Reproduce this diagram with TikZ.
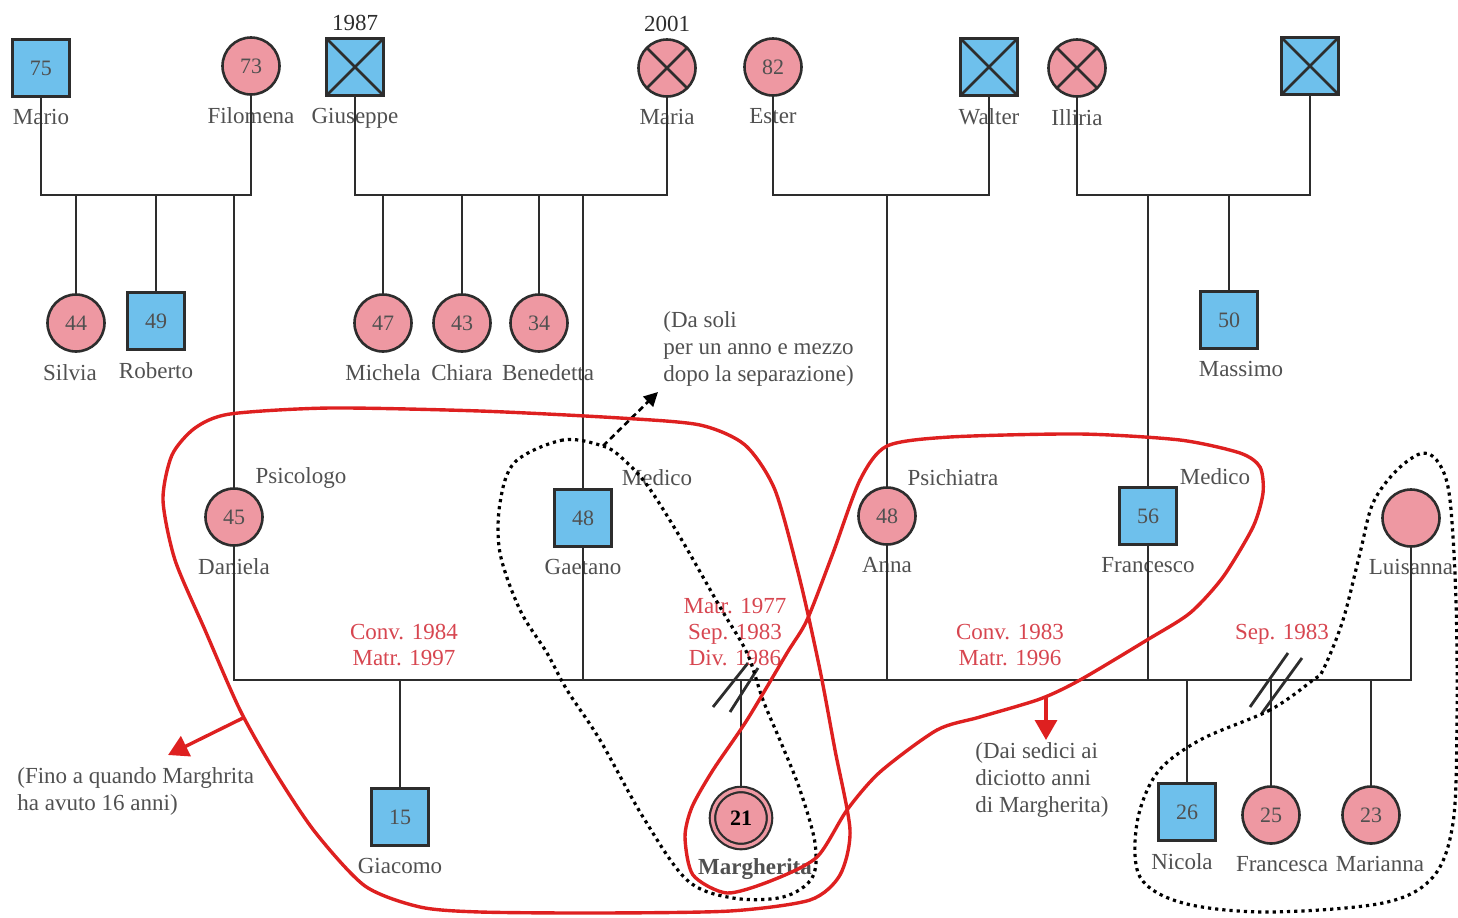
\documentclass[tikz,border=0pt]{standalone}
\usepackage{fontspec}
\setmainfont{Liberation Serif}
\usetikzlibrary{arrows.meta, positioning}
\definecolor{mblue}{RGB}{110,192,236}
\definecolor{fpink}{RGB}{238,152,162}
\definecolor{linegray}{RGB}{45,45,45}
\definecolor{txtgray}{RGB}{80,80,80}
\definecolor{penred}{RGB}{222,32,32}
\definecolor{notered}{RGB}{215,70,80}

\tikzset{
  person/.style={draw=linegray, line width=1.3pt, inner sep=0pt, minimum size=28.5pt,
    font=\fontsize{11}{12}\selectfont, text=txtgray},
  male/.style={person, rectangle, fill=mblue},
  female/.style={person, circle, fill=fpink},
  dead/.style={path picture={\draw[linegray, line width=1.3pt]
    (path picture bounding box.north west) -- (path picture bounding box.south east)
    (path picture bounding box.south west) -- (path picture bounding box.north east);}},
  namelbl/.style={font=\fontsize{11.5}{12}\selectfont, text=txtgray, inner sep=1pt},
  nm/.style={label={[namelbl]below:#1}},
  nmx/.style 2 args={label={[namelbl, xshift=#1]below:#2}},
  yr/.style={label={[namelbl, text=linegray, yshift=-2.5pt]above:#1}},
  prof/.style={font=\fontsize{11.5}{12}\selectfont, text=txtgray, inner sep=1pt},
  redtxt/.style={font=\fontsize{11.5}{13}\selectfont, text=notered, align=center, inner sep=0pt},
  note/.style={font=\fontsize{11.5}{13.5}\selectfont, text=txtgray, align=left, inner sep=0pt, anchor=west},
  kin/.style={draw=linegray, line width=1.4pt},
  pen/.style={draw=penred, line width=1.7pt},
  penarrow/.style={penred, line width=1.7pt, -{Triangle[length=10pt, width=11pt]}},
  dots/.style={draw=black, line width=1.6pt, dash pattern=on 1.6pt off 2pt}
}

\begin{document}
\begin{tikzpicture}[x=0.5pt, y=-0.5pt, label distance=4.5pt]
  \useasboundingbox (0,0) rectangle (1458,917);
  \coordinate (famA) at (0,195);
  \coordinate (wed) at (0,680);

  % draws the grandparents
  \node[male, nm=Mario] (mario) at (41,68) {75};
  \node[female, nm=Filomena] (filomena) at (251,66) {73};
  \node[male, dead, nm=Giuseppe, yr=1987] (giuseppe) at (355,67) {};
  \node[female, dead, nm=Maria, yr=2001] (maria) at (667,68) {};
  \node[female, nm=Ester] (ester) at (773,67) {82};
  \node[male, dead, nm=Walter] (walter) at (989,67) {};
  \node[female, dead, nm=Illiria] (illiria) at (1077,68) {};
  \node[male, dead] (nonno) at (1310,66) {};

  % draws the uncles and aunts
  \node[female, nmx={-3pt}{Silvia}] (silvia) at (76,323) {44};
  \node[male, nm=Roberto] (roberto) at (156,321) {49};
  \node[female, nm=Michela] (michela) at (383,323) {47};
  \node[female, nm=Chiara] (chiara) at (462,323) {43};
  \node[female, nmx={4.5pt}{Benedetta}] (benedetta) at (539,323) {34};
  \node[male, nmx={6pt}{Massimo}] (massimo) at (1229,320) {50};

  % draws the parents
  \node[female, nm=Daniela] (daniela) at (234,517) {45};
  \node[male, nm=Gaetano] (gaetano) at (583,518) {48};
  \node[female, nm=Anna] (anna) at (887,516) {48};
  \node[male, nm=Francesco] (francesco) at (1148,516) {56};
  \node[female, nm=Luisanna] (luisanna) at (1411,518) {};
  \node[prof] (psicologo) at (301,478) {Psicologo};
  \node[prof] (medicoG) at (657,478) {Medico};
  \node[prof] (psichiatra) at (953,478) {Psichiatra};
  \node[prof] (medicoF) at (1215,477) {Medico};

  % draws the children
  \node[male, nm=Giacomo] (giacomo) at (400,817) {15};
  \node[female, double=fpink, double distance=1.6pt, line width=1.1pt, text=black,
    nmx={7pt}{\textbf{Margherita}}] (margherita) at (741,818) {\textbf{21}};
  \node[male, nmx={-2.5pt}{Nicola}] (nicola) at (1187,812) {26};
  \node[female, nmx={5.5pt}{Francesca}] (francesca) at (1271,815) {25};
  \node[female, nmx={4.5pt}{Marianna}] (marianna) at (1371,815) {23};

  % draws the family lines
  \draw[kin] (mario) -- (mario |- famA) -| (filomena);
  \draw[kin] (giuseppe) -- (giuseppe |- famA) -| (maria);
  \draw[kin] (ester) -- (ester |- famA) -| (walter);
  \draw[kin] (illiria) -- (illiria |- famA) -| (nonno);
  \foreach \c in {silvia, roberto, daniela, michela, chiara, benedetta, gaetano, anna, francesco, massimo}
    \draw[kin] (\c) -- (\c |- famA);
  \draw[kin] (daniela) -- (daniela |- wed) -- (luisanna |- wed) -- (luisanna);
  \foreach \c in {gaetano, anna, francesco, giacomo, margherita, nicola, francesca, marianna}
    \draw[kin] (\c) -- (\c |- wed);
  \draw[kin] (713,707) -- (748,663) (730,712) -- (758,668);
  \draw[kin] (1250,707) -- (1288,653) (1262,713) -- (1302,658);

  % draws the dates
  \node[redtxt] (convA) at (404,645) {Conv. 1984\\Matr. 1997};
  \node[redtxt] (matrB) at (735,632) {Matr. 1977\\Sep. 1983\\Div. 1986};
  \node[redtxt] (convC) at (1010,645) {Conv. 1983\\Matr. 1996};
  \node[redtxt] (sepD) at (1282,634) {Sep. 1983};

  % draws the notes
  \node[note] (dasoli) at (663,349) {(Da soli\\per un anno e mezzo\\dopo la separazione)};
  \node[note] (fino) at (17,791) {(Fino a quando Marghrita\\ha avuto 16 anni)};
  \node[note] (sedici) at (975,780) {(Dai sedici ai\\diciotto anni\\di Margherita)};

  % draws the dotted groups
  \draw[dots] plot[smooth cycle, tension=0.55] coordinates {(603,446) (563,440) (515,462) (500,503)
    (500,553) (520,610) (547,653) (567,690) (600,740) (643,817) (687,880) (733,898) (783,897)
    (812,878) (815,843) (800,790) (782,745) (763,700) (747,653) (720,607) (680,537) (647,485) (622,458)};
  \draw[dots] plot[smooth cycle, tension=0.55] coordinates {(1313,680) (1270,710) (1200,740)
    (1157,773) (1137,823) (1140,877) (1183,903) (1267,912) (1383,903) (1433,877) (1453,823)
    (1457,723) (1456,600) (1450,500) (1440,465) (1423,453) (1397,470) (1373,503) (1360,553)
    (1343,620) (1323,670)};
  \coordinate (dsFrom) at (603,446);
  \coordinate (dsTo) at (658,392);
  \draw[line width=1.3pt, densely dashed, -{Triangle[length=7pt, width=7pt]}] (dsFrom) -- (dsTo);

  % draws the red loops
  \draw[pen] plot[smooth cycle, tension=0.45] coordinates {(230,414) (330,408) (480,411) (620,418)
    (700,425) (745,445) (775,490) (800,580) (820,670) (835,750) (850,830) (840,875) (810,900)
    (730,911) (600,913) (480,912) (420,907) (365,886) (315,832) (275,772) (240,710) (205,630)
    (175,560) (163,500) (172,455) (195,428)};
  \draw[pen] plot[smooth cycle, tension=0.45] coordinates {(887,446) (950,437) (1080,434)
    (1180,440) (1240,453) (1260,467) (1263,493) (1253,527) (1223,577) (1190,613) (1147,640)
    (1080,680) (1040,699) (980,717) (937,730) (880,772) (847,810) (817,857) (773,880) (727,893)
    (693,875) (685,837) (692,807) (713,770) (747,720) (787,653) (807,620) (833,553) (860,480)};
  \coordinate (fromL) at (243,718);
  \coordinate (toL) at (168,755);
  \draw[penarrow] (fromL) -- (toL);
  \coordinate (fromR) at (1046,698);
  \coordinate (toR) at (1046,740);
  \draw[penarrow] (fromR) -- (toR);
\end{tikzpicture}
\end{document}
